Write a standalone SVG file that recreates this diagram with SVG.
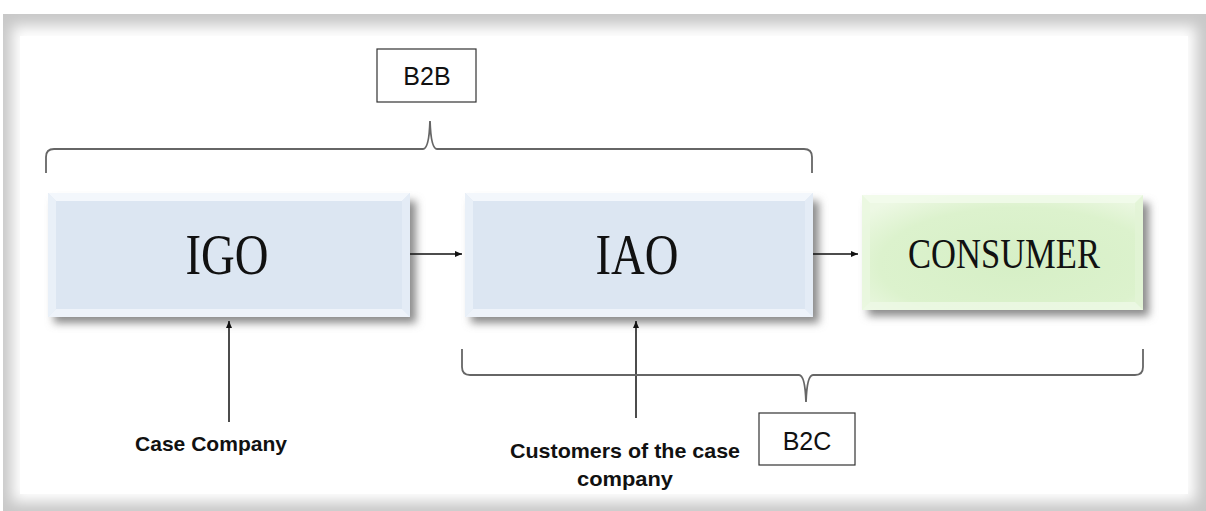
<svg xmlns="http://www.w3.org/2000/svg" width="1206" height="511" viewBox="0 0 1206 511">
<style>
.lbl{font-family:"Liberation Sans",Arial,sans-serif;font-size:25px;fill:#111;text-anchor:middle}
.bold{font-family:"Liberation Sans",Arial,sans-serif;font-weight:bold;font-size:21px;fill:#111;text-anchor:middle}
.big{font-family:"Liberation Serif","Times New Roman",serif;fill:#111;text-anchor:middle}
.conn{stroke:#111;stroke-width:1.5;fill:none}
.brace{stroke:#666;stroke-width:1.8;fill:none}
.tag{fill:#fff;stroke:#333;stroke-width:1.2}
</style>
<defs>
<marker id="ah" markerWidth="8" markerHeight="8" refX="7" refY="4" orient="auto" markerUnits="userSpaceOnUse">
<path d="M0,1 L7,4 L0,7 Z" fill="#111"/>
</marker>
<filter id="sh" x="-10%" y="-20%" width="130%" height="160%"><feGaussianBlur stdDeviation="4"/></filter>
<filter id="fr" x="-5%" y="-5%" width="110%" height="110%"><feGaussianBlur stdDeviation="7"/></filter>
<radialGradient id="grn" cx="0.55" cy="0.6" r="0.7">
<stop offset="0" stop-color="#d6efc6"/>
<stop offset="0.7" stop-color="#dcf2cd"/>
<stop offset="1" stop-color="#edf8e4"/>
</radialGradient>
</defs>
<rect x="0" y="0" width="1206" height="511" fill="#fff"/>
<g id="frame">
<rect x="3" y="14" width="1203" height="497" fill="#c8c8c8"/>
<rect x="12" y="26" width="1184" height="476" fill="#fff" filter="url(#fr)"/>
<rect x="20" y="36" width="1168" height="458" fill="#fff"/>
</g>
<g id="IGO">
<rect x="54" y="201" width="362" height="122" fill="#8a8a8a" filter="url(#sh)"/>
<rect x="48" y="193" width="362" height="124" fill="#dce6f2"/>
<polygon points="48,193 410,193 402,201 56,201" fill="#f3f7fc"/>
<polygon points="48,193 56,201 56,309 48,317" fill="#e9f0f8"/>
<polygon points="410,193 410,317 402,309 402,201" fill="#e4ecf6"/>
<polygon points="48,317 56,309 402,309 410,317" fill="#eef3fa"/>
<text class="big" x="227" y="274" font-size="57" textLength="83" lengthAdjust="spacingAndGlyphs">IGO</text>
</g>
<g id="IAO">
<rect x="471" y="201" width="348" height="122" fill="#8a8a8a" filter="url(#sh)"/>
<rect x="465" y="193" width="348" height="124" fill="#dce6f2"/>
<polygon points="465,193 813,193 805,201 473,201" fill="#f3f7fc"/>
<polygon points="465,193 473,201 473,309 465,317" fill="#e9f0f8"/>
<polygon points="813,193 813,317 805,309 805,201" fill="#e4ecf6"/>
<polygon points="465,317 473,309 805,309 813,317" fill="#eef3fa"/>
<text class="big" x="637" y="274" font-size="57" textLength="83" lengthAdjust="spacingAndGlyphs">IAO</text>
</g>
<g id="CONSUMER">
<rect x="868" y="203" width="281" height="113" fill="#8a8a8a" filter="url(#sh)"/>
<rect x="862" y="195" width="281" height="115" fill="url(#grn)"/>
<polygon points="862,195 1143,195 1135,203 870,203" fill="#f2fbec" opacity="0.8"/>
<polygon points="862,195 870,203 870,302 862,310" fill="#eaf7e0" opacity="0.8"/>
<polygon points="1143,195 1143,310 1135,302 1135,203" fill="#e2f4d6" opacity="0.8"/>
<polygon points="862,310 870,302 1135,302 1143,310" fill="#eef9e6" opacity="0.8"/>
<text class="big" x="1004" y="268" font-size="42" textLength="192" lengthAdjust="spacingAndGlyphs">CONSUMER</text>
</g>
<g id="B2B">
<rect class="tag" x="377" y="49" width="99" height="53"/>
<text class="lbl" x="427" y="85">B2B</text>
</g>
<g id="B2C">
<rect class="tag" x="759" y="413" width="96" height="52"/>
<text class="lbl" x="807" y="450">B2C</text>
</g>
<g id="case-company">
<text class="bold" x="211" y="451" textLength="152" lengthAdjust="spacingAndGlyphs">Case Company</text>
</g>
<g id="customers">
<text class="bold" x="625" y="458" textLength="230" lengthAdjust="spacingAndGlyphs">Customers of the case</text>
<text class="bold" x="625" y="486" textLength="96" lengthAdjust="spacingAndGlyphs">company</text>
</g>
<g id="connectors">
<line class="conn" x1="410" y1="254" x2="462" y2="254" marker-end="url(#ah)"/>
<line class="conn" x1="813" y1="254" x2="858" y2="254" marker-end="url(#ah)"/>
<line class="conn" x1="229" y1="422" x2="229" y2="321" marker-end="url(#ah)"/>
<line class="conn" x1="636" y1="418" x2="636" y2="321" marker-end="url(#ah)"/>
<path class="brace" d="M46,173 V157 Q46,149 54,149 H423 Q429,149 430,121 Q431,149 437,149 H804 Q812,149 812,157 V173"/>
<path class="brace" d="M462,349 V367 Q462,375 470,375 H799 Q805,375 806,402 Q807,375 813,375 H1135 Q1143,375 1143,367 V349"/>
</g>
</svg>
